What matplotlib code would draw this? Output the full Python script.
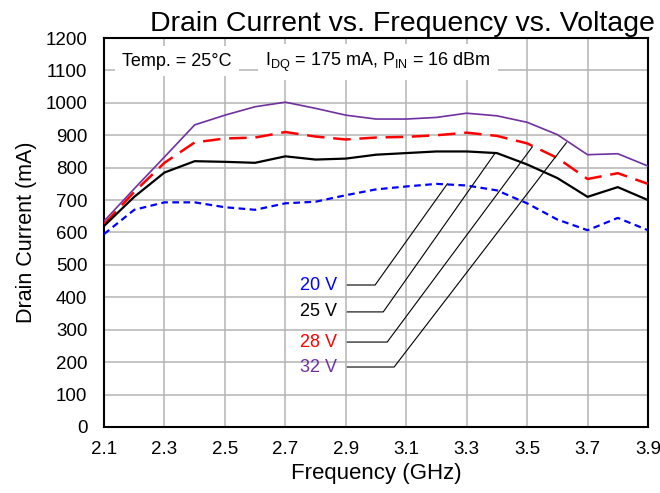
import matplotlib
matplotlib.use("Agg")
import matplotlib.pyplot as plt
from matplotlib.patches import Rectangle
import numpy as np

plt.rcParams['font.family'] = ['Liberation Sans', 'DejaVu Sans']

freq = [2.1, 2.2, 2.3, 2.4, 2.5, 2.6, 2.7, 2.8, 2.9, 3.0,
        3.1, 3.2, 3.3, 3.4, 3.5, 3.6, 3.7, 3.8, 3.9]
i_20v = [595, 670, 693, 693, 678, 670, 690, 695, 715, 733,
         742, 750, 745, 730, 690, 640, 607, 645, 607]
i_25v = [620, 710, 785, 820, 818, 815, 835, 825, 828, 840,
         845, 850, 850, 845, 810, 768, 710, 740, 700]
i_28v = [625, 725, 815, 878, 890, 893, 910, 896, 887, 893,
         895, 900, 908, 898, 875, 830, 765, 783, 750]
i_32v = [635, 735, 833, 932, 962, 988, 1002, 983, 962, 950,
         950, 955, 968, 960, 940, 902, 840, 843, 805]

labels = ["20 V", "25 V", "28 V", "32 V"]
label_colors = ["#0000FF", "#000000", "#FF0000", "#7030A0"]

fig = plt.figure(figsize=(6.6, 4.93), dpi=100)
ax = fig.add_axes([0.1576, 0.1339, 0.8242, 0.789])

ax.plot(freq, i_32v, color="#7030A0", lw=1.2, zorder=3)
ax.plot(freq, i_28v, color="#FF0000", lw=1.8, dashes=(7, 3.5), zorder=3)
ax.plot(freq, i_25v, color="#000000", lw=1.6, zorder=3)
ax.plot(freq, i_20v, color="#0000FF", lw=1.6, dashes=(3, 2), zorder=3)

ax.set_xlim(2.1, 3.9)
ax.set_ylim(0, 1200)
ax.set_xticks(np.arange(2.1, 3.91, 0.2))
ax.set_yticks(np.arange(0, 1201, 100))
ax.xaxis.set_major_formatter(matplotlib.ticker.FormatStrFormatter('%.1f'))
ax.grid(True, color="#b4b4b4", lw=1.1, zorder=0)
ax.tick_params(axis="y", length=0, labelsize=13.5, pad=12)
ax.tick_params(axis="x", length=0, labelsize=13.5, pad=10)
for s in ax.spines.values():
    s.set_linewidth(1.5)
    s.set_color("black")

ax.set_xlabel("Frequency (GHz)", fontsize=16, labelpad=4)
ax.set_ylabel("Drain Current (mA)", fontsize=15.5, labelpad=6)
ax.set_title("Drain Current vs. Frequency vs. Voltage", fontsize=20.5, pad=5,
             x=0.548)

box = dict(facecolor="white", edgecolor="none", pad=5)
ax.text(2.16, 1115, "Temp. = 25°C", fontsize=13, va="baseline", ha="left",
        bbox=box, zorder=4)
ax.text(2.633, 1115, r"I$_{\mathregular{DQ}}$ = 175 mA, P$_{\mathregular{IN}}$ = 16 dBm",
        fontsize=13, va="baseline", ha="left", bbox=box, zorder=4)

# white panel behind the voltage labels
ax.add_patch(Rectangle((2.703, 145), 0.255, 352, facecolor="white",
                       edgecolor="none", zorder=1))

# leader lines: label y, end of horizontal part, target point on curve
label_y = [438, 355, 262, 185]
knee_x = [2.997, 3.024, 3.037, 3.06]
tip = [(3.236, 750), (3.395, 846), (3.517, 864), (3.63, 877)]
for lab, col, ly, kx, (tx, ty) in zip(labels, label_colors, label_y, knee_x, tip):
    ax.text(2.87, ly, lab, color=col, fontsize=13, ha="right", va="center",
            zorder=4)
    ax.plot([2.905, kx, tx], [ly, ly, ty], color="black", lw=0.8, zorder=5)

fig.savefig("out.png", dpi=100)
